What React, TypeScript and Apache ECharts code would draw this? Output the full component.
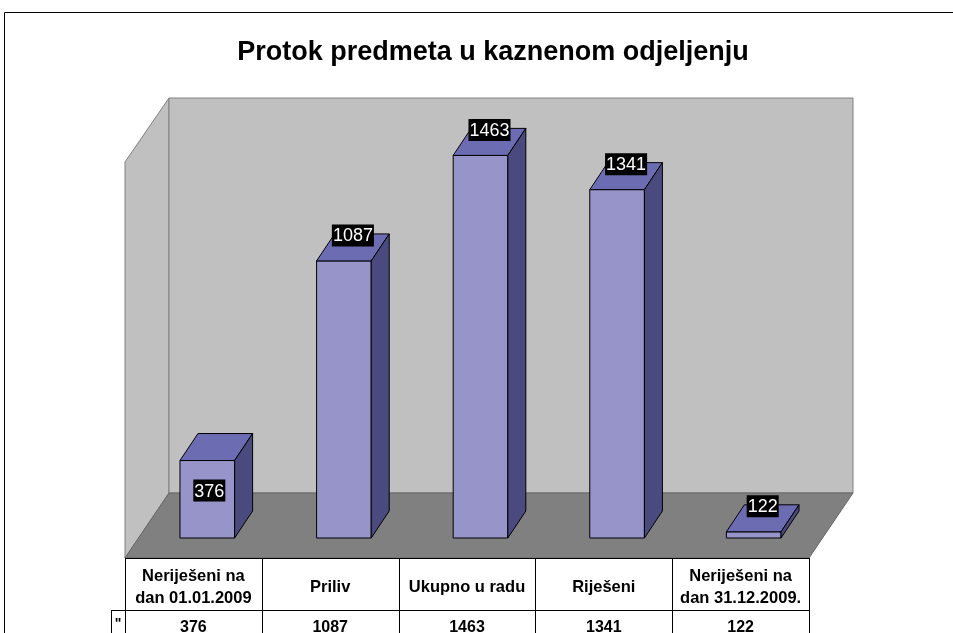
import React, { useEffect, useRef } from "react";
import * as echarts from "echarts";

const title = "Protok predmeta u kaznenom odjeljenju";
const categories = [
  "Neriješeni na\ndan 01.01.2009",
  "Priliv",
  "Ukupno u radu",
  "Riješeni",
  "Neriješeni na\ndan 31.12.2009.",
];
const values = [376, 1087, 1463, 1341, 122];
const legendKey = '"';

const FONT = "'Liberation Sans', Arial, sans-serif";

export default function App() {
  const ref = useRef<HTMLDivElement>(null);
  useEffect(() => {
    if (!ref.current) return;
    const chart = echarts.init(ref.current, null, { renderer: "svg" });
    const yMin = 100;
    const dx = 18;
    const dy = 27;

    const tableLeft = 125;
    const colW = 136.8;
    const tableTop = 558;
    const rowSplit = 610;

    const graphics: any[] = [];
    graphics.push({
      type: "rect",
      shape: { x: 4.5, y: 12.5, width: 1000, height: 700 },
      style: { fill: "#fff", stroke: "#000", lineWidth: 1 },
      z: -10,
    });
    graphics.push({
      type: "polygon",
      shape: { points: [[125, 162], [169, 98], [169, 493], [125, 558]] },
      style: { fill: "#C0C0C0", stroke: "#808080", lineWidth: 1 },
      z: -5,
    });
    graphics.push({
      type: "rect",
      shape: { x: 169, y: 98, width: 684, height: 395 },
      style: { fill: "#C0C0C0", stroke: "#808080", lineWidth: 1 },
      z: -5,
    });
    graphics.push({
      type: "polygon",
      shape: { points: [[125, 558], [809, 558], [853, 493], [169, 493]] },
      style: { fill: "#808080", stroke: "#666", lineWidth: 1 },
      z: -4,
    });
    const tableRight = tableLeft + colW * categories.length;
    graphics.push({
      type: "line",
      shape: { x1: tableLeft, y1: tableTop + 0.5, x2: tableRight, y2: tableTop + 0.5 },
      style: { stroke: "#000", lineWidth: 1 },
      z: 1,
    });
    graphics.push({
      type: "line",
      shape: { x1: 111, y1: rowSplit + 0.5, x2: tableRight, y2: rowSplit + 0.5 },
      style: { stroke: "#000", lineWidth: 1 },
      z: 1,
    });
    graphics.push({
      type: "line",
      shape: { x1: 111.5, y1: rowSplit, x2: 111.5, y2: 640 },
      style: { stroke: "#000", lineWidth: 1 },
      z: 1,
    });
    for (let i = 0; i <= categories.length; i++) {
      const x = Math.round(tableLeft + colW * i) + 0.5;
      graphics.push({
        type: "line",
        shape: { x1: x, y1: tableTop, x2: x, y2: 640 },
        style: { stroke: "#000", lineWidth: 1 },
        z: 1,
      });
    }
    graphics.push({
      type: "text",
      x: 118,
      y: 623,
      style: {
        text: legendKey,
        font: `bold 14px ${FONT}`,
        fill: "#000",
        align: "center",
        verticalAlign: "middle",
      },
      z: 2,
    });
    categories.forEach((c, i) => {
      const cx = tableLeft + colW * (i + 0.5);
      graphics.push({
        type: "text",
        x: cx,
        y: 586,
        style: {
          text: c,
          font: `bold 16.5px ${FONT}`,
          fill: "#000",
          align: "center",
          verticalAlign: "middle",
          lineHeight: 22,
        },
        z: 2,
      });
      graphics.push({
        type: "text",
        x: cx,
        y: 626,
        style: {
          text: String(values[i]),
          font: `bold 16px ${FONT}`,
          fill: "#000",
          align: "center",
          verticalAlign: "middle",
        },
        z: 2,
      });
    });

    chart.setOption({
      animation: false,
      title: {
        text: title,
        left: 488,
        top: 32,
        textAlign: "center",
        textStyle: { fontFamily: FONT, fontWeight: "bold", fontSize: 27, color: "#000" },
      },
      grid: { left: 139, right: 131, top: 145, bottom: 95 },
      xAxis: {
        type: "category",
        data: categories,
        show: false,
        boundaryGap: true,
      },
      yAxis: {
        type: "value",
        min: yMin,
        max: 1500,
        show: false,
        splitLine: { show: false },
      },
      graphic: graphics,
      series: [
        {
          type: "custom",
          z: 5,
          data: values.map((v, i) => [i, v]),
          renderItem: (params: any, api: any) => {
            const v = api.value(1);
            const top = api.coord([api.value(0), v]);
            const base = api.coord([api.value(0), yMin]);
            const w = api.size([1, 0])[0] * 0.4;
            const x = top[0] - w / 2;
            const y = top[1];
            const by = base[1];
            const inside = params.dataIndex === 0;
            const lx = inside ? top[0] + 2 : x + w / 2 + dx / 2;
            const ly = inside ? y + 30 : y - dy / 2 - 12;
            return {
              type: "group",
              children: [
                {
                  type: "rect",
                  shape: { x, y, width: w, height: by - y },
                  style: { fill: "#9694C8", stroke: "#000", lineWidth: 1 },
                },
                {
                  type: "polygon",
                  shape: { points: [[x, y], [x + dx, y - dy], [x + w + dx, y - dy], [x + w, y]] },
                  style: { fill: "#6C6CB2", stroke: "#000", lineWidth: 1 },
                },
                {
                  type: "polygon",
                  shape: { points: [[x + w, y], [x + w + dx, y - dy], [x + w + dx, by - dy], [x + w, by]] },
                  style: { fill: "#4A4A7E", stroke: "#000", lineWidth: 1 },
                },
                {
                  type: "text",
                  x: lx,
                  y: ly,
                  style: {
                    text: String(v),
                    font: `18px ${FONT}`,
                    fill: "#fff",
                    backgroundColor: "#000",
                    padding: [2, 1, 2, 1],
                    align: "center",
                    verticalAlign: "middle",
                  },
                },
              ],
            };
          },
        },
      ],
    });
    return () => chart.dispose();
  }, []);
  return (
    <div
      ref={ref}
      style={{ position: "fixed", left: 0, top: 0, width: 953, height: 633 }}
    />
  );
}
